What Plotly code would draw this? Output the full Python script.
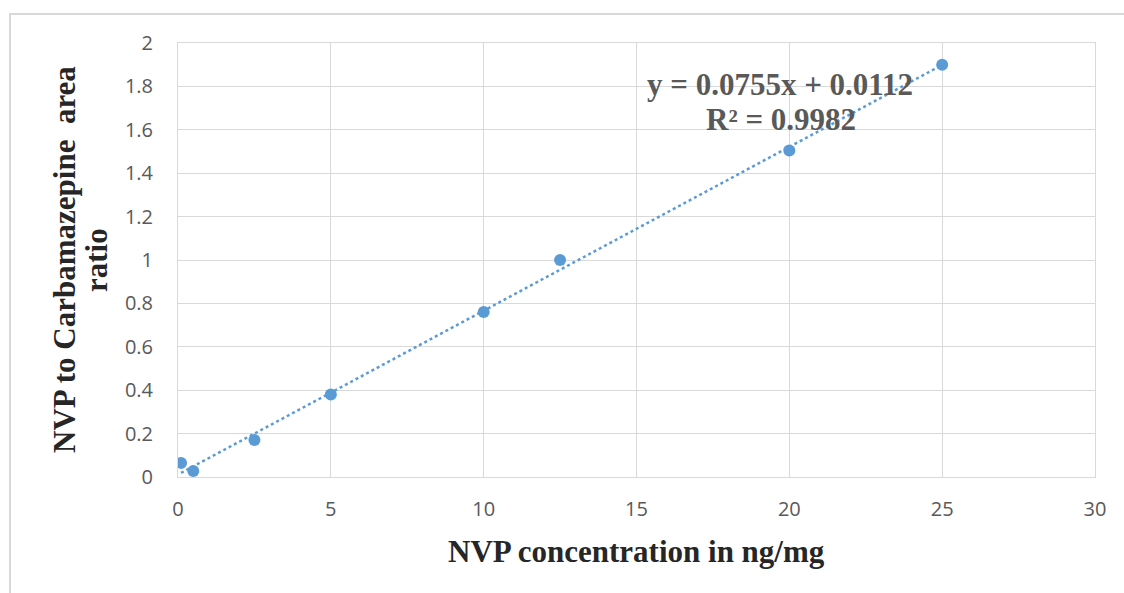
import plotly.graph_objects as go

# Calibration data: NVP concentration (ng/mg) vs. NVP / Carbamazepine peak-area ratio
concentration = [0.1, 0.5, 2.5, 5, 10, 12.5, 20, 25]
area_ratio = [0.065, 0.028, 0.17, 0.38, 0.76, 1.0, 1.505, 1.9]

# Linear fit reported on the chart
slope = 0.0755
intercept = 0.0112
r_squared = 0.9982

x_ticks = [0, 5, 10, 15, 20, 25, 30]
y_ticks = [0, 0.2, 0.4, 0.6, 0.8, 1, 1.2, 1.4, 1.6, 1.8, 2]
y_tick_text = ["0", "0.2", "0.4", "0.6", "0.8", "1", "1.2", "1.4", "1.6", "1.8", "2"]

blue = "#5b9bd5"
grid = "#d9d9d9"
tick_color = "#595959"
serif = "Liberation Serif, Times New Roman, serif"
tick_font = dict(family="Open Sans, Liberation Sans, sans-serif", size=20, color=tick_color)

# plot area in pixels
L, R, T, B = 178, 1095, 43, 477
W, H = R - L, B - T


def px(x):
    return (x - L) / W


def py(y):
    return (B - y) / H


fit_x = [min(concentration), max(concentration)]
fit_y = [slope * v + intercept for v in fit_x]

fig = go.Figure()
fig.add_trace(go.Scatter(
    x=fit_x, y=fit_y, mode="lines",
    line=dict(color=blue, width=2.5, dash="dot"),
    hoverinfo="skip", showlegend=False,
))
fig.add_trace(go.Scatter(
    x=concentration, y=area_ratio, mode="markers",
    marker=dict(color=blue, size=12),
    showlegend=False,
))

fig.update_layout(
    width=1124, height=593,
    margin=dict(l=L, r=1124 - R, t=T, b=593 - B),
    paper_bgcolor="white", plot_bgcolor="white",
    xaxis=dict(
        range=[0, 30], tickvals=x_ticks, ticktext=[str(t) for t in x_ticks],
        showgrid=True, gridcolor=grid, gridwidth=1,
        showline=True, linecolor=grid, linewidth=1, mirror=True,
        zeroline=False, ticks="", ticklabelstandoff=14,
        tickfont=tick_font,
    ),
    yaxis=dict(
        range=[0, 2], tickvals=y_ticks, ticktext=y_tick_text,
        showgrid=True, gridcolor=grid, gridwidth=1,
        showline=True, linecolor=grid, linewidth=1, mirror=True,
        zeroline=False, ticks="", ticklabelstandoff=20,
        tickfont=tick_font,
    ),
    shapes=[dict(
        type="rect", xref="paper", yref="paper",
        x0=px(10), x1=1.2, y0=-0.5, y1=py(14),
        line=dict(color=grid, width=2), fillcolor="rgba(0,0,0,0)", layer="below",
    )],
)

title_font = dict(family=serif, size=31, color="#262626")
eq_font = dict(family=serif, size=31, color="#595959")

labels = [
    ("<b>NVP concentration in ng/mg</b>", 636, 551, 0, title_font),
    ("<b>NVP to Carbamazepine  area</b>", 64, 260, -90, title_font),
    ("<b>ratio</b>", 96, 260, -90, title_font),
    (f"<b>y = {slope}x + {intercept}</b>", 780, 84, 0, eq_font),
    (f"<b>R² = {r_squared}</b>", 781, 119, 0, eq_font),
]
for text, x, y, angle, font in labels:
    fig.add_annotation(
        text=text, xref="paper", yref="paper", x=px(x), y=py(y),
        xanchor="center", yanchor="middle", textangle=angle,
        showarrow=False, font=font,
    )

fig.write_html("out.html")
